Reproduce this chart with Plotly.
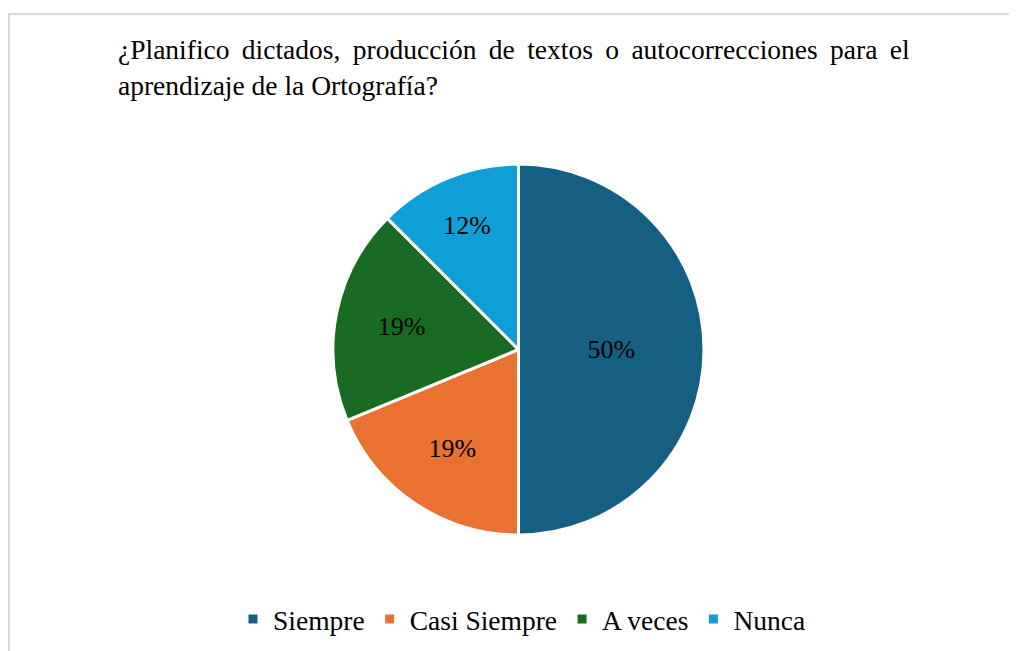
import plotly.graph_objects as go

categories = ["Siempre", "Casi Siempre", "A veces", "Nunca"]
values = [50, 18.75, 18.75, 12.5]
labels_txt = ["50%", "19%", "19%", "12%"]
colors = ["#156082", "#E97132", "#196B24", "#0F9ED5"]

title_line1 = "¿Planifico dictados, producción de textos o autocorrecciones para el"
title_line2 = "aprendizaje de la Ortografía?"

W, H = 1017, 651
OFF = 8  # page body margin
serif = "Times New Roman"


def px_x(x):
    return (x - OFF) / W


def px_y(y):
    return 1 - (y - OFF) / H


# stretch the first line a bit, the original is justified
line1 = title_line1.replace(" ", " \u2009")

fig = go.Figure(go.Pie(
    labels=categories,
    values=values,
    text=labels_txt,
    textinfo="text",
    textposition="inside",
    insidetextorientation="horizontal",
    textfont=dict(family=serif, size=26, color="black"),
    marker=dict(colors=colors, line=dict(color="white", width=3)),
    sort=False,
    direction="clockwise",
    rotation=0,
    domain=dict(x=[px_x(333), px_x(704)], y=[px_y(535), px_y(164)]),
    hoverinfo="label+percent",
))

fig.update_layout(
    width=W, height=H,
    margin=dict(l=0, r=0, t=0, b=0, autoexpand=False),
    paper_bgcolor="white",
    plot_bgcolor="white",
    font=dict(family=serif, size=27, color="black"),
    title=dict(
        text=line1 + "<br>" + title_line2,
        x=px_x(118), xanchor="left",
        y=px_y(59), yanchor="top",
        pad=dict(l=0, r=0, t=0, b=0),
        font=dict(family=serif, size=27.5, color="black"),
    ),
    legend=dict(
        orientation="h",
        x=px_x(522), xanchor="center",
        y=px_y(619), yanchor="middle",
        font=dict(family=serif, size=27.5, color="black"),
        itemwidth=30,
    ),
    shapes=[dict(
        type="rect", xref="paper", yref="paper",
        x0=1 / W, x1=1.01, y0=-0.01, y1=px_y(14),
        line=dict(color="#D9D9D9", width=2),
    )],
)

fig.write_html("out.html")
